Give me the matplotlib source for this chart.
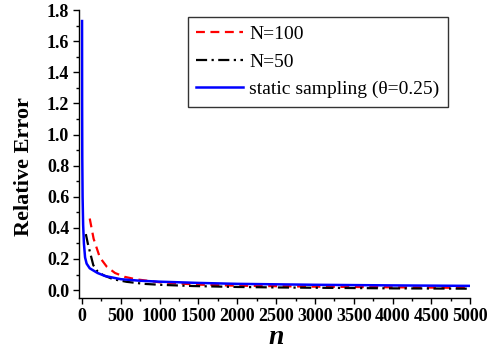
import matplotlib
matplotlib.use("Agg")
import matplotlib.pyplot as plt
from matplotlib.ticker import MultipleLocator

# Data
n_static = [1, 2, 4, 8, 15, 25, 40, 60, 100, 150, 200, 300, 500, 750, 1000, 1500, 2000, 3000, 4000, 5000]
err_static = [1.73, 1.20, 0.85, 0.60, 0.42, 0.30, 0.21, 0.17, 0.14, 0.125, 0.11, 0.09, 0.07, 0.06, 0.054, 0.046, 0.040, 0.034, 0.030, 0.027]

n_100 = [100, 150, 230, 320, 425, 550, 700, 1000, 1500, 2000, 2500, 3000, 3500, 4000, 4500, 5000]
err_100 = [0.46, 0.33, 0.21, 0.15, 0.11, 0.085, 0.069, 0.05, 0.035, 0.028, 0.025, 0.022, 0.02, 0.018, 0.016, 0.014]

n_50 = [50, 75, 100, 146, 200, 275, 400, 576, 800, 1000, 1430, 2000, 2500, 3000, 3500, 4000, 4500, 5000]
err_50 = [0.36, 0.30, 0.25, 0.16, 0.12, 0.096, 0.07, 0.053, 0.04, 0.034, 0.026, 0.02, 0.017, 0.015, 0.013, 0.011, 0.01, 0.009]

plt.rcParams['font.family'] = ['Liberation Serif', 'DejaVu Serif']

fig = plt.figure(figsize=(4.96, 3.5), dpi=100)
ax = fig.add_axes([0.159, 0.149, 0.789, 0.822])

ax.plot(n_100, err_100, color='red', linestyle=(0, (4, 2.5)), linewidth=1.6, label='N=100')
ax.plot(n_50, err_50, color='black', linestyle=(0, (5, 2, 1, 2)), linewidth=1.6, label='N=50')
ax.plot(n_static, err_static, color='blue', linestyle='-', linewidth=1.8, label='static sampling (θ=0.25)')

ax.set_xlim(-40, 5000)
ax.set_ylim(-0.05, 1.8)
ax.xaxis.set_major_locator(MultipleLocator(500))
ax.xaxis.set_minor_locator(MultipleLocator(250))
ax.yaxis.set_major_locator(MultipleLocator(0.2))
ax.yaxis.set_minor_locator(MultipleLocator(0.1))
ax.yaxis.set_major_formatter(matplotlib.ticker.FormatStrFormatter('%.1f'))

for s in ['top', 'right']:
    ax.spines[s].set_visible(False)
for s in ['left', 'bottom']:
    ax.spines[s].set_linewidth(1.0)

ax.tick_params(which='major', direction='out', length=4, width=1, labelsize=13, pad=3)
ax.tick_params(which='minor', direction='out', length=2.5, width=1)
for lbl in ax.get_xticklabels() + ax.get_yticklabels():
    lbl.set_fontweight('bold')

ax.set_xlabel('n', fontsize=20, fontweight='bold', fontstyle='italic')
ax.set_ylabel('Relative Error', fontsize=16, fontweight='bold')
ax.xaxis.set_label_coords(0.504, -0.095)
ax.yaxis.set_label_coords(-0.115, 0.455)

leg = ax.legend(loc='upper right', bbox_to_anchor=(0.953, 0.99), fontsize=14, frameon=True,
                fancybox=False, edgecolor='black', handlelength=2.4, handletextpad=0.3,
                borderpad=0.45, labelspacing=0.5, borderaxespad=0.2)
leg.get_frame().set_linewidth(1.0)

fig.savefig('out.png', dpi=100)
